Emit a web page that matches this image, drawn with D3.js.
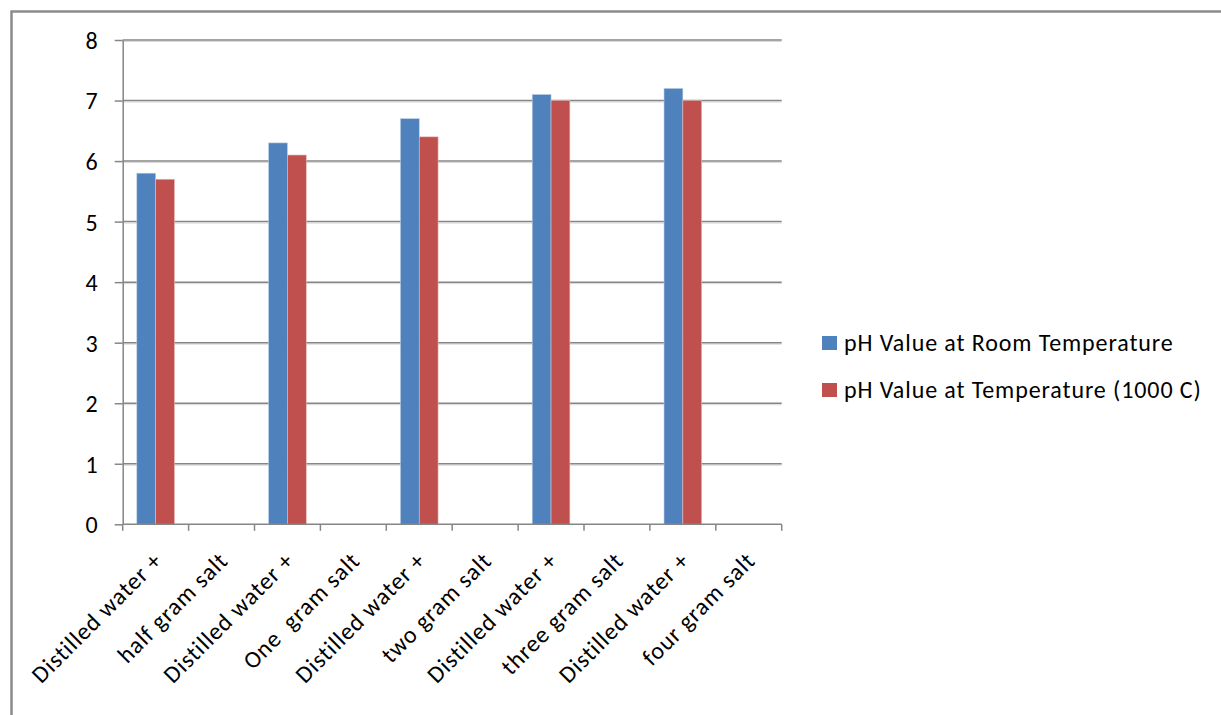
<!DOCTYPE html>
<html>
<head>
<meta charset="utf-8">
<script src="https://cdn.jsdelivr.net/npm/d3@7"></script>
<style>
  body { margin: 0; background: #fff; }
  svg text { font-family: Carlito, Lato, "Open Sans", sans-serif; fill: #000; letter-spacing: 0.9px; white-space: pre; }
</style>
</head>
<body>
<svg id="chart" width="1221" height="715"></svg>
<script>
// Chart data
const categories = [
  "Distilled water +", "half gram salt",
  "Distilled water +", "One  gram salt",
  "Distilled water +", "two gram salt",
  "Distilled water +", "three gram salt",
  "Distilled water +", "four gram salt"
];
const seriesNames = ["pH Value at Room Temperature", "pH Value at Temperature (1000 C)"];
const roomTemp = [5.8, null, 6.3, null, 6.7, null, 7.1, null, 7.2, null];
const highTemp = [5.7, null, 6.1, null, 6.4, null, 7.0, null, 7.0, null];
const yTicks = [0, 1, 2, 3, 4, 5, 6, 7, 8];
const colors = ["#4F81BD", "#C0504D"];

const width = 1221;
const height = 715;
const margin = { top: 40, left: 122.7, right: 1221 - 781.7, bottom: 715 - 524.3 };
const fontSize = 24;
const svg = d3.select('#chart');

// Outer chart border (only top and left visible in the crop)
svg.append("path")
  .attr("d", `M11.5,${height} V11.5 H${width}`)
  .attr("fill", "none")
  .attr("stroke", "#8c8c8c")
  .attr("stroke-width", 2.5);

const x = d3.scaleBand()
  .domain(d3.range(categories.length))
  .range([margin.left, width - margin.right]);

const inner = d3.scaleBand()
  .domain([0, 1])
  .range([0, x.bandwidth()])
  .paddingInner(0)
  .paddingOuter(0.75);

const y = d3.scaleLinear()
  .domain([0, 8])
  .range([height - margin.bottom, margin.top]);

// Gridlines with a faint shadow, like the Office style
const grid = svg.append("g");
grid.selectAll("line.shadow")
  .data(yTicks.slice(1))
  .enter().append("line")
  .attr("x1", margin.left).attr("x2", width - margin.right)
  .attr("y1", d => y(d) + 1.5).attr("y2", d => y(d) + 1.5)
  .attr("stroke", "#d9d9d9").attr("stroke-width", 1);
grid.selectAll("line.main")
  .data(yTicks.slice(1))
  .enter().append("line")
  .attr("x1", margin.left).attr("x2", width - margin.right)
  .attr("y1", d => y(d)).attr("y2", d => y(d))
  .attr("stroke", "#868686").attr("stroke-width", 1.5);

// Bars
const series = [roomTemp, highTemp];
series.forEach((values, s) => {
  svg.append("g")
    .selectAll("rect")
    .data(values.map((v, i) => ({ i, v })).filter(d => d.v != null))
    .enter().append("rect")
    .attr("x", d => x(d.i) + inner(s))
    .attr("width", inner.bandwidth())
    .attr("y", d => y(d.v))
    .attr("height", d => y(0) - y(d.v))
    .attr("fill", colors[s])
    .attr("stroke", s === 0 ? "#b9cde5" : "#e6b9b8")
    .attr("stroke-width", 0.6);
});

// Y axis
const yAxis = svg.append("g")
  .attr("transform", `translate(${margin.left},0)`)
  .call(d3.axisLeft(y).tickValues(yTicks).tickSize(8).tickPadding(17).tickSizeOuter(0));
yAxis.selectAll("line, path").attr("stroke", "#868686").attr("stroke-width", 1.5);
yAxis.selectAll("text").attr("font-size", 24).attr("dy", "0.35em").style("letter-spacing", "0px");

// X axis with ticks at category boundaries
const xAxis = svg.append("g")
  .attr("transform", `translate(0,${y(0)})`);
xAxis.append("line")
  .attr("x1", margin.left).attr("x2", width - margin.right)
  .attr("stroke", "#868686").attr("stroke-width", 1.5);
xAxis.selectAll("line.tick")
  .data(d3.range(categories.length + 1))
  .enter().append("line")
  .attr("x1", d => margin.left + d * x.step())
  .attr("x2", d => margin.left + d * x.step())
  .attr("y1", 0).attr("y2", 6.5)
  .attr("stroke", "#868686").attr("stroke-width", 1.5);
xAxis.selectAll("text")
  .data(categories)
  .enter().append("text")
  .attr("transform", (d, i) => `translate(${x(i) + x.bandwidth() / 2 - 4},${26}) rotate(-45)`)
  .attr("text-anchor", "end")
  .attr("dy", "0.7em")
  .attr("font-size", fontSize)
  .text(d => d);

// Legend
const legend = svg.append("g").attr("transform", "translate(822,336)");
seriesNames.forEach((name, i) => {
  const row = legend.append("g").attr("transform", `translate(0,${i * 47})`);
  row.append("rect").attr("width", 15).attr("height", 14).attr("fill", colors[i]);
  row.append("text").attr("x", 22).attr("y", 7).attr("dy", "0.35em")
    .attr("font-size", fontSize).text(name);
});
</script>
</body>
</html>
